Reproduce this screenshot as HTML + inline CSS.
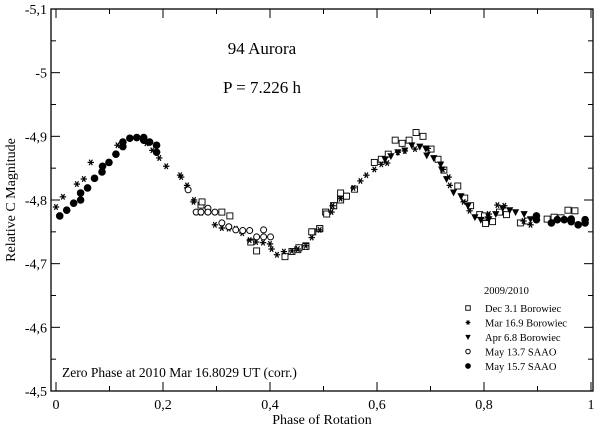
<!DOCTYPE html>
<html><head><meta charset="utf-8"><style>
html,body{margin:0;padding:0;background:#fff;}
svg{display:block;font-family:"Liberation Serif",serif;}
</style></head><body>
<svg id="chart" width="600" height="427" viewBox="0 0 600 427" xmlns="http://www.w3.org/2000/svg">
<g id="axes"></g>
<g id="marks"></g>
<text x="262" y="54" font-size="17" text-anchor="middle">94 Aurora</text>
<text x="262" y="93" font-size="17" text-anchor="middle">P = 7.226 h</text>
<text x="62" y="377" font-size="13.5">Zero Phase at 2010 Mar 16.8029 UT (corr.)</text>
<text x="322" y="424" font-size="14" text-anchor="middle">Phase of Rotation</text>
<text transform="translate(15,200) rotate(-90)" font-size="14" text-anchor="middle">Relative C Magnitude</text>
<g id="legend">
<text x="484" y="294" font-size="10.5">2009/2010</text>
</g>
</svg>
<script>
const xTicks=[0,0.2,0.4,0.6,0.8,1];
const xTickLabels=["0","0,2","0,4","0,6","0,8","1"];
const yTicks=[-5.1,-5.0,-4.9,-4.8,-4.7,-4.6,-4.5];
const yTickLabels=["-5,1","-5","-4,9","-4,8","-4,7","-4,6","-4,5"];
const seriesNames=["Dec 3.1 Borowiec","Mar 16.9 Borowiec","Apr 6.8 Borowiec","May 13.7 SAAO","May 15.7 SAAO"];

const decPhase=[.271,.273,.310,.325,.364,.375,.428,.441,.452,.467,.480,.493,.504,.519,.532,.541,.454,.467,.478,.493,.506,.519,.532,.532,.543,.558,.595,.608,.621,.634,.647,.660,.673,.686,.701,.714,.725,.751,.764,.775,.792,.801,.803,.816,.829,.842,.868,.881,.918,.931,.944,.957,.970];
const decMag=[-4.792,-4.797,-4.781,-4.775,-4.734,-4.720,-4.711,-4.719,-4.722,-4.728,-4.750,-4.755,-4.781,-4.791,-4.802,-4.806,-4.725,-4.727,-4.750,-4.755,-4.778,-4.791,-4.811,-4.800,-4.806,-4.817,-4.859,-4.864,-4.872,-4.894,-4.889,-4.894,-4.906,-4.900,-4.880,-4.864,-4.847,-4.822,-4.803,-4.791,-4.777,-4.775,-4.763,-4.766,-4.781,-4.777,-4.764,-4.767,-4.770,-4.773,-4.772,-4.784,-4.783];

const marPhase=[.000,.013,.039,.052,.065,.115,.169,.180,.193,.206,.232,.245,.258,.234,.245,.257,.271,.297,.310,.323,.336,.348,.362,.374,.387,.400,.403,.413,.426,.441,.452,.467,.478,.493,.515,.517,.532,.556,.569,.580,.595,.608,.619,.639,.652,.671,.695,.723,.734,.736,.762,.773,.809,.825,.838,.874,.887,.807];
const marMag=[-4.789,-4.805,-4.825,-4.833,-4.859,-4.886,-4.889,-4.878,-4.866,-4.853,-4.839,-4.823,-4.800,-4.836,-4.819,-4.797,-4.780,-4.761,-4.756,-4.755,-4.755,-4.748,-4.737,-4.734,-4.733,-4.731,-4.723,-4.714,-4.719,-4.720,-4.723,-4.728,-4.741,-4.753,-4.781,-4.791,-4.802,-4.819,-4.830,-4.839,-4.848,-4.856,-4.858,-4.875,-4.877,-4.880,-4.881,-4.848,-4.836,-4.823,-4.797,-4.783,-4.778,-4.792,-4.791,-4.767,-4.761,-4.773];

const aprPhase=[.615,.626,.639,.652,.665,.680,.691,.693,.706,.719,.721,.730,.743,.757,.770,.783,.794,.809,.822,.835,.848,.859,.875,.887];
const aprMag=[-4.864,-4.869,-4.875,-4.878,-4.886,-4.884,-4.881,-4.870,-4.866,-4.856,-4.848,-4.833,-4.812,-4.806,-4.791,-4.773,-4.769,-4.770,-4.778,-4.787,-4.784,-4.781,-4.778,-4.770];

const may13Phase=[.247,.262,.271,.284,.284,.297,.310,.323,.336,.349,.362,.388,.388,.401,.375];
const may13Mag=[-4.816,-4.781,-4.781,-4.787,-4.781,-4.781,-4.764,-4.758,-4.753,-4.752,-4.752,-4.753,-4.742,-4.742,-4.742];

const may15Phase=[.007,.020,.033,.046,.046,.059,.072,.086,.087,.099,.112,.125,.125,.138,.151,.164,.164,.175,.188,.188,.926,.937,.950,.963,.963,.976,.989,.989,.898,.898];
const may15Mag=[-4.775,-4.784,-4.795,-4.800,-4.811,-4.819,-4.834,-4.844,-4.853,-4.859,-4.872,-4.884,-4.891,-4.897,-4.898,-4.898,-4.894,-4.891,-4.886,-4.875,-4.764,-4.769,-4.769,-4.770,-4.766,-4.761,-4.769,-4.764,-4.769,-4.775];

const NS="http://www.w3.org/2000/svg";
const L=51,R=593,T=9,B=391;
function xs(p){return 56+p*535;}
function ys(m){return T+(m-(-5.1))/0.6*(B-T);}
function mk(tag,at,parent){const e=document.createElementNS(NS,tag);for(const k in at)e.setAttribute(k,at[k]);parent.appendChild(e);return e;}
const axes=document.getElementById('axes');
const frame=mk('rect',{x:L,y:T,width:R-L,height:B-T,fill:'none',stroke:'#000','stroke-width':1.3},axes);


for(let i=0;i<=10;i++){const p=i/10;const major=i%2===0;const len=major?9:5;const x=xs(p);
 mk('line',{x1:x,y1:B,x2:x,y2:B-len,stroke:'#000'},axes);
 mk('line',{x1:x,y1:T,x2:x,y2:T+len,stroke:'#000'},axes);}
xTicks.forEach((v,i)=>{const t=mk('text',{x:xs(v),y:B+18,'font-size':14,'text-anchor':'middle'},axes);t.textContent=xTickLabels[i];
 
 });
for(let i=0;i<=12;i++){const m=-5.1+i*0.05;const major=i%2===0;const len=major?9:5;const y=ys(m);
 mk('line',{x1:L,y1:y,x2:L+len,y2:y,stroke:'#000'},axes);
 mk('line',{x1:R,y1:y,x2:R-len,y2:y,stroke:'#000'},axes);}
yTicks.forEach((v,i)=>{const t=mk('text',{x:L-4,y:ys(v)+5,'font-size':14,'text-anchor':'end'},axes);t.textContent=yTickLabels[i];
 
 });

function drawMarker(type,x,y,g,s){
 s=s||1;
 if(type===0){return mk('rect',{x:x-3*s,y:y-3*s,width:6*s,height:6*s,fill:'#fff',stroke:'#000','stroke-width':0.9},g);}
 if(type===1){const gg=mk('g',{stroke:'#000','stroke-width':1.2},g);const r=3.2*s;
  mk('line',{x1:x-r,y1:y,x2:x+r,y2:y},gg);
  mk('line',{x1:x-r*0.5,y1:y-r*0.87,x2:x+r*0.5,y2:y+r*0.87},gg);
  mk('line',{x1:x-r*0.5,y1:y+r*0.87,x2:x+r*0.5,y2:y-r*0.87},gg);return gg;}
 if(type===2){const r=3.6*s;return mk('polygon',{points:`${x-r},${y-r*0.8} ${x+r},${y-r*0.8} ${x},${y+r*1.1}`,fill:'#000'},g);}
 if(type===3){return mk('circle',{cx:x,cy:y,r:3*s,fill:'#fff',stroke:'#000','stroke-width':1},g);}
 return mk('circle',{cx:x,cy:y,r:3.8*s,fill:'#000'},g);
}
const marks=document.getElementById('marks');
const sets=[[decPhase,decMag,0],[marPhase,marMag,1],[aprPhase,aprMag,2],[may13Phase,may13Mag,3],[may15Phase,may15Mag,4]];
const names=['dec-point','mar-point','apr-point','may13-point','may15-point'];
sets.forEach(([ps,ms,t])=>{ps.forEach((p,i)=>{const e=drawMarker(t,xs(p),ys(ms[i]),marks);
 
 });});
const lg=document.getElementById('legend');
seriesNames.forEach((n,i)=>{const y=312+i*14.5;
 const m=drawMarker(i,468,y-4,lg,0.75);
 
 
 const t=mk('text',{x:485,y:y,'font-size':10.5},lg);t.textContent=n;
 
 });
</script>
</body></html>
